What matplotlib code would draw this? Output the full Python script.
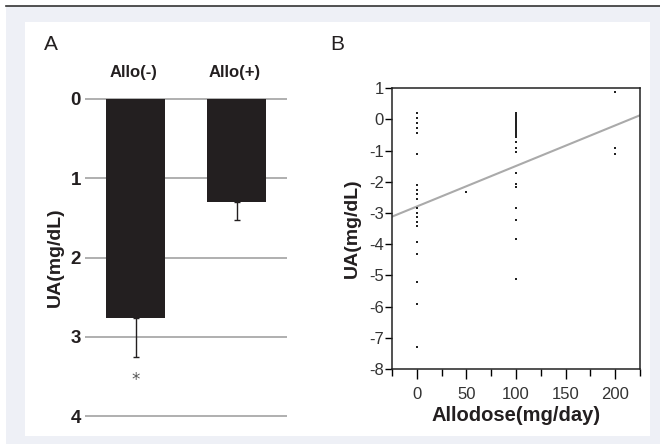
import matplotlib
matplotlib.use("Agg")
import matplotlib.pyplot as plt
from matplotlib.patches import Rectangle
from matplotlib.lines import Line2D
import numpy as np

# ---- Data ----
groups = ["Allo(-)", "Allo(+)"]
ua_drop = [2.76, 1.30]
ua_err = [0.50, 0.23]
a_yticks = [0, 1, 2, 3, 4]

dose_0 = [0.2, 0.04, -0.12, -0.28, -0.44, -1.12, -2.1, -2.25, -2.4, -2.55,
          -2.85, -3.0, -3.12, -3.28, -3.42, -3.93, -4.32, -5.22, -5.91, -7.31]
dose_50 = [-2.32]
dose_100 = [0.2, 0.15, 0.1, 0.05, 0.0, -0.05, -0.1, -0.15, -0.2, -0.25, -0.3,
            -0.35, -0.4, -0.45, -0.5, -0.55, -0.71, -0.92, -1.03, -1.72, -2.08,
            -2.15, -2.83, -3.22, -3.82, -5.11]
dose_200 = [0.87, -0.9, -1.12]
fit_intercept = -2.79
fit_slope = 0.0130
b_xticks = [0, 50, 100, 150, 200]
b_yticks = [1, 0, -1, -2, -3, -4, -5, -6, -7, -8]

W, H = 660, 444
fig = plt.figure(figsize=(W / 100, H / 100), dpi=100)
fig.patch.set_facecolor("white")

def px(x0, y0, x1, y1):
    return [x0 / W, 1 - y1 / H, (x1 - x0) / W, (y1 - y0) / H]

# background frame
fig.patches.append(Rectangle((6 / W, 0), 1 - 6 / W, 1 - 6 / H, transform=fig.transFigure,
                             facecolor="#eef0f6", edgecolor="none", zorder=-10))
fig.patches.append(Rectangle((25 / W, 1 - 436 / H), (650 - 25) / W, (436 - 22) / H,
                             transform=fig.transFigure, facecolor="white",
                             edgecolor="none", zorder=-9))
fig.lines.append(Line2D([6 / W, 1], [1 - 6 / H, 1 - 6 / H], transform=fig.transFigure,
                        color="#333333", lw=1.2))

bold = dict(family=["Liberation Sans", "DejaVu Sans"], fontweight="bold")
narrow = ["Liberation Sans Narrow", "Liberation Sans", "DejaVu Sans"]

# ---- Panel A ----
axA = fig.add_axes(px(85, 95, 287, 420))
axA.set_facecolor("none")
x = np.arange(len(groups))
axA.bar(x, ua_drop, width=0.578, color="#231f20", zorder=3)
axA.errorbar(x, ua_drop, yerr=[[0] * len(x), ua_err], fmt="none", ecolor="#231f20",
             elinewidth=1.0, capsize=2.2, capthick=1.0, zorder=2)
for t in a_yticks:
    axA.axhline(t, color="#9a9a9a", lw=1.1, zorder=1)
axA.set_xlim(-0.5, 1.5)
axA.set_ylim(4.05, -0.05)
axA.set_yticks(a_yticks)
axA.set_yticklabels([str(t) for t in a_yticks], fontsize=13.5, **bold, color="#231f20")
axA.tick_params(axis="y", length=0, pad=3)
axA.set_xticks([])
for s in axA.spines.values():
    s.set_visible(False)
for i, g in enumerate(groups):
    axA.text(i - 0.02, -0.33, g, ha="center", va="center", fontsize=12, **bold,
             color="#231f20")
axA.text(0, 3.55, "*", ha="center", va="center", fontsize=12, color="#555555")
axA.set_ylabel("UA(mg/dL)", fontsize=14, labelpad=5, **bold, color="#231f20")
fig.text(51 / W, 1 - 45 / H, "A", ha="center", va="center", fontsize=15,
         family=["Liberation Sans", "DejaVu Sans"], color="#231f20")

# ---- Panel B ----
axB = fig.add_axes(px(392, 88.3, 640, 369))
for xs, ys in [(0, dose_0), (50, dose_50), (100, dose_100), (200, dose_200)]:
    axB.plot([xs] * len(ys), ys, ls="none", marker="s", ms=1.7, color="#222222",
             mew=0, zorder=3)
xl = np.array([-25, 225])
axB.plot(xl, fit_intercept + fit_slope * xl, color="#aaaaaa", lw=1.5, zorder=2)
axB.set_xlim(-25, 225)
axB.set_ylim(-8, 1)
axB.set_xticks(b_xticks)
axB.set_xticks([-25, 25, 75, 125, 175, 225], minor=True)
axB.set_yticks(b_yticks)
axB.set_xticklabels([str(t) for t in b_xticks], fontsize=12, family=narrow, color="#333333")
axB.set_yticklabels([str(t) for t in b_yticks], fontsize=12, family=narrow, color="#333333")
axB.tick_params(axis="x", which="major", length=7, width=1, pad=6)
axB.tick_params(axis="x", which="minor", length=5, width=1)
axB.tick_params(axis="y", length=5, width=1, pad=1)
for s in axB.spines.values():
    s.set_linewidth(1.1)
    s.set_color("#222222")
axB.set_ylabel("UA(mg/dL)", fontsize=14, labelpad=6, **bold, color="#231f20")
axB.set_xlabel("Allodose(mg/day)", fontsize=14.5, labelpad=3, **bold, color="#231f20")
fig.text(337.5 / W, 1 - 45 / H, "B", ha="center", va="center", fontsize=15,
         family=["Liberation Sans", "DejaVu Sans"], color="#231f20")

fig.savefig("out.png", dpi=100)
